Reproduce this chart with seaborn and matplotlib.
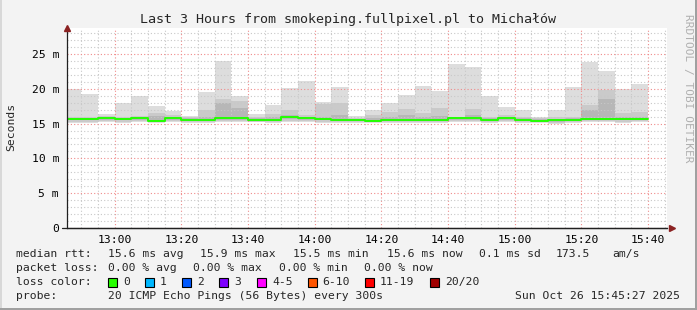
import numpy as np
import pandas as pd
import matplotlib
matplotlib.use("Agg")
import matplotlib.pyplot as plt
import seaborn as sns
from matplotlib.patches import Rectangle

# ---------------- data (ms) ----------------
bin_start = pd.date_range("2025-10-26 12:45", "2025-10-26 15:35", freq="5min")
median = [15.69, 15.69, 15.75, 15.66, 15.80, 15.42, 15.80, 15.56, 15.56, 15.75,
          15.75, 15.56, 15.56, 15.90, 15.75, 15.70, 15.51, 15.51, 15.42, 15.56,
          15.56, 15.56, 15.56, 15.75, 15.75, 15.56, 15.75, 15.56, 15.42, 15.51,
          15.56, 15.70, 15.70, 15.66, 15.70]
ping_max = [20.0, 19.3, 16.4, 18.0, 18.9, 17.6, 16.75, 16.1, 19.6, 24.0,
            18.9, 16.4, 17.7, 20.1, 21.1, 18.1, 20.3, 16.1, 16.9, 18.0,
            19.15, 20.45, 19.7, 23.6, 23.1, 18.9, 17.4, 17.0, 15.9, 17.0,
            20.3, 23.8, 22.6, 20.0, 20.7]
ping_hi2 = [16.0, 16.0, 16.1, 16.0, 16.1, 16.5, 16.2, 15.9, 17.0, 18.6,
            18.2, 15.9, 16.4, 17.0, 16.2, 17.8, 17.95, 15.8, 16.2, 16.6,
            17.1, 16.5, 17.3, 16.0, 17.1, 15.9, 16.2, 16.0, 15.8, 15.9,
            16.0, 17.7, 19.8, 16.5, 16.6]
ping_hi3 = [15.85, 15.85, 15.95, 15.85, 15.95, 16.1, 16.0, 15.75, 16.0, 17.95,
            17.2, 15.75, 15.9, 16.2, 15.95, 16.0, 16.2, 15.7, 15.8, 16.0,
            16.2, 16.0, 16.1, 15.9, 16.2, 15.75, 15.9, 15.8, 15.6, 15.7,
            15.8, 17.0, 18.6, 16.0, 16.0]
ping_lo3 = [15.45, 15.45, 15.5, 15.45, 15.5, 15.3, 15.55, 15.4, 15.4, 15.5,
            15.5, 15.4, 15.4, 15.6, 15.5, 15.45, 15.35, 15.35, 15.3, 15.4,
            15.4, 15.4, 15.4, 15.5, 15.5, 15.4, 15.5, 15.4, 15.3, 15.3,
            15.4, 15.5, 15.5, 15.45, 15.5]
ping_lo2 = [15.3, 15.3, 15.35, 15.3, 15.35, 15.2, 15.4, 15.25, 15.25, 15.35,
            15.35, 15.3, 15.25, 15.4, 15.35, 15.3, 15.25, 15.25, 15.2, 15.3,
            15.3, 15.3, 15.3, 15.35, 15.35, 15.3, 15.35, 15.3, 15.2, 15.15,
            15.3, 15.35, 15.35, 15.3, 15.35]
ping_min = [15.1, 15.1, 15.25, 15.1, 15.2, 15.05, 15.25, 15.1, 15.05, 15.25,
            15.25, 15.25, 15.1, 15.2, 15.2, 15.15, 15.1, 15.1, 15.05, 15.15,
            15.15, 15.15, 15.15, 15.2, 15.2, 15.15, 15.2, 15.15, 15.05, 15.0,
            15.15, 15.2, 15.2, 15.15, 15.2]

x_tick_labels = ["13:00", "13:20", "13:40", "14:00", "14:20", "14:40", "15:00", "15:20", "15:40"]
y_tick_values = [0, 5, 10, 15, 20, 25]
y_tick_labels = ["0", "5 m", "10 m", "15 m", "20 m", "25 m"]

loss_labels = ["0", "1", "2", "3", "4-5", "6-10", "11-19", "20/20"]
loss_colors = ["#26ff00", "#00b8ff", "#0059ff", "#7e00ff", "#ff00ff", "#ff5500", "#ff0000", "#a10000"]

title = "Last 3 Hours from smokeping.fullpixel.pl to Michałów"
rtt_stats = ["15.6 ms avg", "15.9 ms max", "15.5 ms min", "15.6 ms now", "0.1 ms sd", "173.5", "am/s"]
loss_stats = ["0.00 % avg", "0.00 % max", "0.00 % min", "0.00 % now"]
probe_text = "20 ICMP Echo Pings (56 Bytes) every 300s"
stamp_text = "Sun Oct 26 15:45:27 2025"

# ---------------- figure ----------------
sns.set_style("white")
plt.rcParams["font.family"] = ["DejaVu Sans Mono"]
W, H = 697, 310
MONO = "DejaVu Sans Mono"
fig = plt.figure(figsize=(W / 100, H / 100), dpi=100, facecolor="#f3f3f3")
ax = fig.add_axes([67 / W, (H - 228) / H, 600 / W, 200 / H])
ax.set_facecolor("white")

tmin = np.array([t.hour * 60 + t.minute for t in bin_start], dtype=float)
edges = np.append(tmin, tmin[-1] + 5)


def ext(a):
    a = list(a)
    return np.array(a + [a[-1]])


for lo, hi, col in [(ping_min, ping_max, "#dddddd"),
                    (ping_lo2, ping_hi2, "#cacaca"),
                    (ping_lo3, ping_hi3, "#b7b7b7")]:
    ax.fill_between(edges, ext(lo), ext(hi), step="post", color=col, lw=0, zorder=1)

df = pd.DataFrame({"t": edges, "ms": ext(median)})
sns.lineplot(data=df, x="t", y="ms", ax=ax, drawstyle="steps-post", color="#22ff00",
             lw=1.4, estimator=None, zorder=4)

x0 = 12 * 60 + 45 + 40 / 60
ax.set_xlim(x0, x0 + 180)
ax.set_ylim(0, 28.74)

major_x = [13 * 60 + 20 * i for i in range(len(x_tick_labels))]
ax.set_xticks(major_x)
ax.set_xticklabels(x_tick_labels)
ax.set_xticks(np.arange(12 * 60 + 50, x0 + 180, 5), minor=True)
ax.set_yticks(y_tick_values)
ax.set_yticklabels(y_tick_labels)
ax.set_yticks(np.arange(1, 29, 1), minor=True)

ax.set_axisbelow(False)
ax.grid(which="minor", color="#c8c8c8", ls=(0, (1, 2)), lw=0.8)
ax.grid(which="major", color="#f08a8a", ls=(0, (1, 2)), lw=0.8)

ax.set_xlabel("")
ax.set_ylabel("")
for s in ["top", "right"]:
    ax.spines[s].set_visible(False)
for s in ["left", "bottom"]:
    ax.spines[s].set_color("#202020")
    ax.spines[s].set_linewidth(0.9)
    ax.spines[s].set_zorder(5)

ax.tick_params(which="both", direction="out", color="#303030", width=0.8,
               labelsize=8.2, labelcolor="#000000")
ax.tick_params(which="major", length=2.2)
ax.tick_params(which="minor", length=1.5)
ax.tick_params(axis="x", pad=2.5)
ax.tick_params(axis="y", pad=3.5)
for lab in ax.get_xticklabels() + ax.get_yticklabels():
    lab.set_fontfamily(MONO)

# axis arrows
ax.plot([0], [1.0], marker="^", ms=5, color="#8b2222", transform=ax.transAxes, clip_on=False, zorder=6)
ax.plot([1.008], [0], marker=">", ms=5, color="#8b2222", transform=ax.transAxes, clip_on=False, zorder=6)
ax.plot([-0.008, 1.0], [0, 0], color="#202020", lw=0.9, transform=ax.transAxes, clip_on=False, zorder=5)

# texts
def ftext(x, y, s, **kw):
    kw.setdefault("fontsize", 8.2)
    kw.setdefault("family", MONO)
    kw.setdefault("va", "center")
    fig.text(x / W, 1 - y / H, s, **kw)

ftext(348, 19, title, ha="center", fontsize=9.6)
ftext(11, 127, "Seconds", ha="center", rotation=90, fontsize=8.2)
ftext(688, 88, "RRDTOOL / TOBI OETIKER", ha="center", rotation=270, fontsize=8.0, color="#b0b0b0")

ftext(16, 254, "median rtt:")
for xx, s in zip([107.6, 200, 293, 387, 479, 556, 612], rtt_stats):
    ftext(xx, 254, s)
ftext(16, 268, "packet loss:")
for xx, s in zip([107.6, 193, 279, 364], loss_stats):
    ftext(xx, 268, s)
ftext(16, 282, "loss color:")
box_x = [108, 145, 182, 219, 257, 307.5, 365, 430]
for bx, lab, col in zip(box_x, loss_labels, loss_colors):
    fig.add_artist(Rectangle((bx / W, 1 - 286.5 / H), 9 / W, 9 / H, transform=fig.transFigure,
                             facecolor=col, edgecolor="black", lw=0.8))
    ftext(bx + 15, 282, lab)
ftext(16, 296, "probe:")
ftext(107.6, 296, probe_text)
ftext(680, 296, stamp_text, ha="right")

# frame shading
fig.add_artist(Rectangle((0, 0), 2 / W, 1, transform=fig.transFigure, color="#d8d8d8", lw=0))
fig.add_artist(Rectangle((695 / W, 0), 2 / W, 1, transform=fig.transFigure, color="#a0a0a0", lw=0))
fig.add_artist(Rectangle((0, 0), 1, 2 / H, transform=fig.transFigure, color="#a0a0a0", lw=0))

fig.savefig("out.png", dpi=100, facecolor=fig.get_facecolor())
